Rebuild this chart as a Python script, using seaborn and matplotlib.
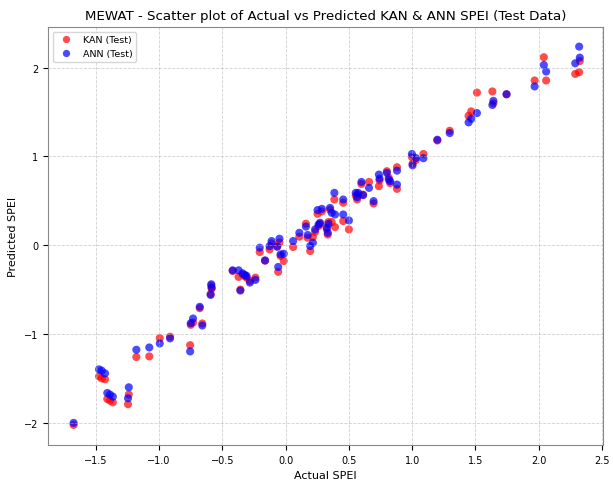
import matplotlib
matplotlib.use("Agg")
import matplotlib.pyplot as plt
import seaborn as sns
import pandas as pd

actual = [-1.676, -1.475, -1.454, -1.428, -1.410, -1.389, -1.366, -1.240, -1.246,
          -1.180, -1.078, -0.995, -0.914, -0.755, -0.750, -0.732, -0.659, -0.679,
          -0.588, -0.585, -0.593, -0.419, -0.372, -0.340, -0.322, -0.309, -0.358,
          -0.283, -0.239, -0.163, -0.205, -0.127, -0.111, -0.067, -0.049, -0.059,
          -0.040, -0.015, 0.059, 0.108, 0.160, 0.174, 0.194, 0.215, 0.233, 0.260,
          0.272, 0.252, 0.286, 0.325, 0.333, 0.351, 0.364, 0.390, 0.338, 0.385,
          0.455, 0.455, 0.500, 0.554, 0.565, 0.573, 0.612, 0.599, 0.659, 0.695,
          0.737, 0.742, 0.800, 0.815, 0.826, 0.880, 0.880, 0.998, 1.029, 1.003,
          1.089, 1.199, 1.297, 1.446, 1.467, 1.512, 1.634, 1.642, 1.746, 1.968,
          2.041, 2.059, 2.289, 2.320, 2.325]
kan_pred = [-2.025, -1.478, -1.500, -1.511, -1.733, -1.751, -1.770, -1.683, -1.792,
            -1.260, -1.253, -1.047, -1.031, -1.126, -0.897, -0.871, -0.882, -0.710,
            -0.455, -0.490, -0.550, -0.290, -0.357, -0.330, -0.350, -0.365, -0.500,
            -0.402, -0.365, -0.175, -0.077, -0.047, 0.020, -0.012, 0.030, -0.300,
            -0.121, -0.178, -0.020, 0.096, 0.242, 0.084, -0.065, 0.092, 0.150, 0.215,
            0.240, 0.354, 0.380, 0.180, 0.120, 0.400, 0.261, 0.204, 0.261, 0.515,
            0.478, 0.272, 0.178, 0.560, 0.515, 0.570, 0.570, 0.690, 0.713, 0.470,
            0.665, 0.730, 0.834, 0.760, 0.700, 0.879, 0.635, 0.994, 0.960, 0.919,
            1.028, 1.180, 1.290, 1.458, 1.508, 1.720, 1.733, 1.600, 1.700, 1.856,
            2.118, 1.856, 1.930, 1.949, 2.076]
ann_pred = [-2.002, -1.399, -1.414, -1.444, -1.665, -1.683, -1.706, -1.601, -1.725,
            -1.178, -1.152, -1.107, -1.050, -1.197, -0.879, -0.826, -0.905, -0.694,
            -0.440, -0.478, -0.560, -0.283, -0.283, -0.317, -0.335, -0.346, -0.511,
            -0.421, -0.391, -0.171, -0.028, -0.010, 0.047, -0.017, 0.073, -0.245,
            -0.103, -0.096, 0.047, 0.140, 0.210, 0.115, -0.009, 0.028, 0.178, 0.234,
            0.253, 0.396, 0.410, 0.197, 0.140, 0.421, 0.365, 0.346, 0.240, 0.590,
            0.515, 0.346, 0.279, 0.590, 0.540, 0.590, 0.564, 0.713, 0.646, 0.497,
            0.796, 0.750, 0.815, 0.740, 0.721, 0.840, 0.683, 1.028, 0.983, 0.900,
            0.980, 1.189, 1.264, 1.384, 1.425, 1.489, 1.580, 1.627, 1.702, 1.789,
            2.031, 1.957, 2.050, 2.238, 2.114]

series_labels = ["KAN (Test)", "ANN (Test)"]
series_colors = ["red", "blue"]

df = pd.DataFrame({
    "Actual": actual * 2,
    "Predicted": kan_pred + ann_pred,
    "Model": [series_labels[0]] * len(actual) + [series_labels[1]] * len(actual),
})

fig = plt.figure(figsize=(6.13, 4.81), dpi=100)
ax = fig.add_axes([0.078, 0.073, 0.906, 0.869])

sns.scatterplot(data=df, x="Actual", y="Predicted", hue="Model",
                palette=dict(zip(series_labels, series_colors)),
                alpha=0.7, s=34, linewidth=0, ax=ax)

ax.set_title("MEWAT - Scatter plot of Actual vs Predicted KAN & ANN SPEI (Test Data)",
             fontsize=9.6, pad=6)
ax.set_xlabel("Actual SPEI", fontsize=8)
ax.set_ylabel("Predicted SPEI", fontsize=8)
ax.tick_params(labelsize=7)
ax.grid(True, linestyle="--", alpha=0.6, linewidth=0.6)
for sp in ax.spines.values():
    sp.set_color("#888888")
leg = ax.legend(loc="upper left", fontsize=6.8, markerscale=0.9, framealpha=0.8)
ax.set_xticks([-1.5, -1.0, -0.5, 0.0, 0.5, 1.0, 1.5, 2.0, 2.5])
ax.set_yticks([-2, -1, 0, 1, 2])
ax.set_xlim(-1.88, 2.51)
ax.set_ylim(-2.25, 2.46)

fig.savefig("out.png", dpi=100)
